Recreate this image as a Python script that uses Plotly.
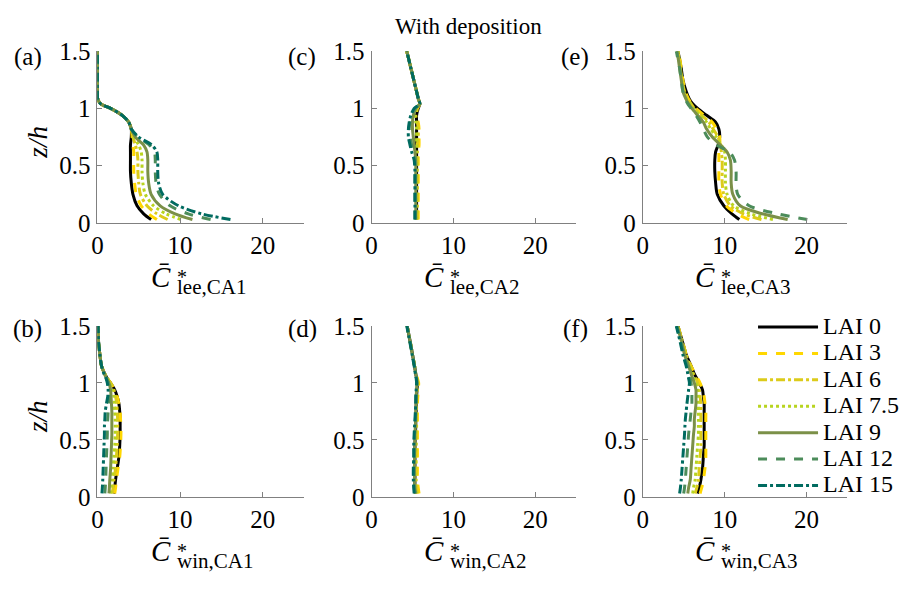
import plotly.graph_objects as go

# ---------------- data ----------------
lai_labels = ["LAI 0", "LAI 3", "LAI 6", "LAI 7.5", "LAI 9", "LAI 12", "LAI 15"]
lai_colors = ["#000000", "#FFD700", "#DCCB1A", "#B8D41F", "#7B9048", "#4C8C5A", "#006B60"]
lai_dashes = ["solid", "dash", "dashdot", "dot", "solid", "dash", "dashdot"]

z = [0.03, 0.08, 0.15, 0.25, 0.35, 0.45, 0.55, 0.62, 0.68, 0.75, 0.82, 0.88, 0.94, 1.0, 1.04, 1.08, 1.15, 1.25, 1.35, 1.5]

# (a) lee, CA1
lee_ca1_lai0 = [6.5, 5.6, 4.8, 4.3, 4.1, 4.0, 4.0, 4.0, 4.0, 4.1, 4.1, 3.8, 3.0, 1.6, 0.4, 0.05, 0, 0, 0, 0]
lee_ca1_lai3 = [7.2, 6.2, 5.3, 4.7, 4.5, 4.4, 4.4, 4.4, 4.3, 4.2, 4.1, 3.8, 3.0, 1.6, 0.4, 0.05, 0, 0, 0, 0]
lee_ca1_lai6 = [8.5, 7.2, 6.0, 5.2, 5.0, 4.9, 4.9, 4.8, 4.6, 4.3, 4.1, 3.8, 3.0, 1.6, 0.4, 0.05, 0, 0, 0, 0]
lee_ca1_lai75 = [10.1, 8.3, 6.8, 5.8, 5.5, 5.4, 5.4, 5.3, 5.0, 4.4, 4.1, 3.8, 3.0, 1.6, 0.4, 0.05, 0, 0, 0, 0]
lee_ca1_lai9 = [11.5, 9.4, 7.6, 6.5, 6.2, 6.1, 6.1, 6.0, 5.6, 4.6, 4.1, 3.8, 3.0, 1.6, 0.4, 0.05, 0, 0, 0, 0]
lee_ca1_lai12 = [13.7, 11.0, 8.8, 7.5, 7.1, 7.0, 7.0, 6.9, 6.3, 4.9, 4.1, 3.8, 3.0, 1.6, 0.4, 0.05, 0, 0, 0, 0]
lee_ca1_lai15 = [16.1, 12.6, 9.8, 7.9, 7.4, 7.3, 7.3, 7.2, 6.6, 5.0, 4.1, 3.8, 3.0, 1.6, 0.4, 0.05, 0, 0, 0, 0]

# (c) lee, CA2
lee_ca2_lai0 = [5.5, 5.5, 5.5, 5.5, 5.5, 5.5, 5.5, 5.5, 5.5, 5.5, 5.5, 5.5, 5.5, 5.7, 5.9, 5.73, 5.49, 5.15, 4.81, 4.3]
lee_ca2_lai3 = [5.7, 5.7, 5.7, 5.7, 5.7, 5.7, 5.7, 5.7, 5.8, 5.8, 5.8, 5.7, 5.5, 5.6, 5.9, 5.73, 5.49, 5.15, 4.81, 4.3]
lee_ca2_lai6 = [5.6, 5.6, 5.6, 5.6, 5.6, 5.6, 5.6, 5.6, 5.6, 5.7, 5.7, 5.6, 5.4, 5.5, 5.9, 5.73, 5.49, 5.15, 4.81, 4.3]
lee_ca2_lai75 = [5.5, 5.5, 5.5, 5.5, 5.5, 5.5, 5.5, 5.5, 5.5, 5.5, 5.5, 5.4, 5.3, 5.5, 5.9, 5.73, 5.49, 5.15, 4.81, 4.3]
lee_ca2_lai9 = [5.4, 5.4, 5.4, 5.4, 5.4, 5.4, 5.4, 5.3, 5.2, 5.1, 5.0, 5.0, 5.1, 5.4, 5.9, 5.73, 5.49, 5.15, 4.81, 4.3]
lee_ca2_lai12 = [5.3, 5.3, 5.3, 5.3, 5.3, 5.3, 5.3, 5.1, 4.9, 4.7, 4.6, 4.7, 4.9, 5.3, 5.9, 5.73, 5.49, 5.15, 4.81, 4.3]
lee_ca2_lai15 = [5.3, 5.3, 5.3, 5.3, 5.3, 5.3, 5.2, 4.9, 4.7, 4.5, 4.5, 4.6, 4.8, 5.2, 5.9, 5.73, 5.49, 5.15, 4.81, 4.3]

# (e) lee, CA3  (LAI 15 not shown in this panel)
lee_ca3_lai0 = [11.8, 10.9, 9.9, 9.1, 8.9, 8.8, 8.8, 8.9, 9.2, 9.4, 9.3, 8.9, 7.8, 6.7, 6.1, 5.7, 5.3, 4.9, 4.7, 4.3]
lee_ca3_lai3 = [13.0, 11.5, 10.2, 9.5, 9.3, 9.3, 9.3, 9.3, 9.4, 9.4, 9.0, 8.5, 7.5, 6.5, 6.0, 5.6, 5.2, 4.9, 4.7, 4.4]
lee_ca3_lai6 = [14.5, 12.3, 10.7, 9.9, 9.7, 9.7, 9.7, 9.6, 9.5, 9.2, 8.6, 8.1, 7.2, 6.3, 5.9, 5.5, 5.1, 4.8, 4.6, 4.3]
lee_ca3_lai75 = [15.9, 13.2, 11.1, 10.3, 10.1, 10.1, 10.1, 10.0, 9.6, 9.0, 8.3, 7.8, 7.0, 6.2, 5.8, 5.4, 5.0, 4.8, 4.6, 4.3]
lee_ca3_lai9 = [17.7, 14.6, 11.9, 11.0, 10.8, 10.8, 10.7, 10.3, 9.5, 8.5, 7.8, 7.4, 6.7, 6.0, 5.6, 5.3, 4.9, 4.7, 4.5, 4.2]
lee_ca3_lai12 = [20.1, 16.5, 13.0, 11.6, 11.4, 11.4, 11.2, 10.6, 9.0, 7.9, 7.4, 7.0, 6.5, 5.9, 5.5, 5.2, 4.9, 4.7, 4.5, 4.1]

# (b) windward, CA1
win_ca1_lai0 = [2.0, 2.1, 2.2, 2.4, 2.6, 2.7, 2.75, 2.75, 2.75, 2.7, 2.6, 2.4, 2.1, 1.6, 1.2, 0.9, 0.5, 0.3, 0.15, 0.08]
win_ca1_lai3 = [2.1, 2.2, 2.3, 2.5, 2.7, 2.8, 2.85, 2.85, 2.8, 2.75, 2.6, 2.4, 2.1, 1.6, 1.2, 0.9, 0.5, 0.3, 0.15, 0.08]
win_ca1_lai6 = [1.8, 1.9, 2.0, 2.2, 2.3, 2.4, 2.45, 2.45, 2.45, 2.4, 2.35, 2.2, 2.0, 1.6, 1.2, 0.9, 0.5, 0.3, 0.15, 0.08]
win_ca1_lai75 = [1.6, 1.7, 1.8, 1.9, 2.0, 2.1, 2.15, 2.15, 2.15, 2.1, 2.05, 2.0, 1.8, 1.5, 1.2, 0.9, 0.5, 0.3, 0.15, 0.08]
win_ca1_lai9 = [1.4, 1.45, 1.5, 1.6, 1.65, 1.7, 1.75, 1.75, 1.75, 1.75, 1.7, 1.65, 1.6, 1.4, 1.1, 0.85, 0.5, 0.3, 0.15, 0.08]
win_ca1_lai12 = [0.9, 0.95, 1.0, 1.05, 1.1, 1.15, 1.2, 1.2, 1.25, 1.3, 1.35, 1.4, 1.4, 1.3, 1.1, 0.85, 0.5, 0.3, 0.15, 0.08]
win_ca1_lai15 = [0.55, 0.6, 0.65, 0.7, 0.75, 0.8, 0.85, 0.85, 0.9, 0.95, 1.1, 1.25, 1.3, 1.2, 1.05, 0.8, 0.5, 0.3, 0.15, 0.08]

# (d) windward, CA2
win_ca2_lai0 = [5.4, 5.3, 5.3, 5.3, 5.3, 5.3, 5.35, 5.4, 5.4, 5.45, 5.45, 5.5, 5.55, 5.6, 5.5, 5.4, 5.25, 5.0, 4.75, 4.35]
win_ca2_lai3 = [5.8, 5.7, 5.6, 5.6, 5.6, 5.6, 5.6, 5.6, 5.6, 5.6, 5.6, 5.65, 5.7, 5.75, 5.6, 5.45, 5.25, 5.0, 4.75, 4.35]
win_ca2_lai6 = [5.6, 5.5, 5.45, 5.45, 5.45, 5.45, 5.5, 5.5, 5.5, 5.5, 5.5, 5.55, 5.6, 5.65, 5.55, 5.4, 5.25, 5.0, 4.75, 4.35]
win_ca2_lai75 = [5.5, 5.4, 5.35, 5.35, 5.35, 5.4, 5.4, 5.45, 5.45, 5.45, 5.5, 5.5, 5.55, 5.6, 5.5, 5.4, 5.25, 5.0, 4.75, 4.35]
win_ca2_lai9 = [5.4, 5.3, 5.25, 5.25, 5.25, 5.3, 5.3, 5.35, 5.4, 5.4, 5.45, 5.45, 5.5, 5.55, 5.5, 5.4, 5.25, 5.0, 4.75, 4.35]
win_ca2_lai12 = [5.3, 5.2, 5.15, 5.15, 5.2, 5.2, 5.25, 5.3, 5.35, 5.4, 5.4, 5.45, 5.5, 5.55, 5.5, 5.4, 5.25, 5.0, 4.75, 4.35]
win_ca2_lai15 = [5.2, 5.15, 5.1, 5.1, 5.15, 5.15, 5.2, 5.25, 5.3, 5.35, 5.4, 5.4, 5.45, 5.5, 5.45, 5.35, 5.2, 4.95, 4.7, 4.3]

# (f) windward, CA3
win_ca3_lai0 = [6.7, 6.9, 7.1, 7.3, 7.4, 7.5, 7.5, 7.5, 7.5, 7.5, 7.5, 7.4, 7.3, 6.9, 6.6, 6.3, 5.9, 5.3, 4.9, 4.3]
win_ca3_lai3 = [7.0, 7.2, 7.4, 7.6, 7.7, 7.7, 7.7, 7.7, 7.7, 7.7, 7.6, 7.5, 7.3, 7.0, 6.7, 6.4, 5.9, 5.3, 4.9, 4.3]
win_ca3_lai6 = [6.4, 6.6, 6.8, 6.9, 7.0, 7.1, 7.1, 7.1, 7.1, 7.1, 7.1, 7.0, 6.9, 6.7, 6.5, 6.2, 5.8, 5.3, 4.9, 4.3]
win_ca3_lai75 = [6.1, 6.2, 6.4, 6.5, 6.6, 6.7, 6.8, 6.8, 6.8, 6.8, 6.8, 6.8, 6.7, 6.5, 6.3, 6.1, 5.7, 5.2, 4.8, 4.25]
win_ca3_lai9 = [5.5, 5.6, 5.8, 5.9, 6.0, 6.1, 6.2, 6.3, 6.3, 6.4, 6.5, 6.5, 6.5, 6.3, 6.1, 5.9, 5.6, 5.1, 4.8, 4.2]
win_ca3_lai12 = [5.0, 5.1, 5.2, 5.3, 5.4, 5.5, 5.6, 5.7, 5.8, 5.9, 6.0, 6.0, 6.0, 5.9, 5.8, 5.6, 5.4, 5.0, 4.7, 4.15]
win_ca3_lai15 = [4.5, 4.6, 4.7, 4.8, 4.9, 5.0, 5.1, 5.15, 5.2, 5.3, 5.4, 5.5, 5.6, 5.7, 5.6, 5.5, 5.3, 4.9, 4.6, 4.1]

panels = [
    ([lee_ca1_lai0, lee_ca1_lai3, lee_ca1_lai6, lee_ca1_lai75, lee_ca1_lai9, lee_ca1_lai12, lee_ca1_lai15], 1, "(a)", "lee,CA1"),
    ([lee_ca2_lai0, lee_ca2_lai3, lee_ca2_lai6, lee_ca2_lai75, lee_ca2_lai9, lee_ca2_lai12, lee_ca2_lai15], 2, "(c)", "lee,CA2"),
    ([lee_ca3_lai0, lee_ca3_lai3, lee_ca3_lai6, lee_ca3_lai75, lee_ca3_lai9, lee_ca3_lai12, None], 3, "(e)", "lee,CA3"),
    ([win_ca1_lai0, win_ca1_lai3, win_ca1_lai6, win_ca1_lai75, win_ca1_lai9, win_ca1_lai12, win_ca1_lai15], 4, "(b)", "win,CA1"),
    ([win_ca2_lai0, win_ca2_lai3, win_ca2_lai6, win_ca2_lai75, win_ca2_lai9, win_ca2_lai12, win_ca2_lai15], 5, "(d)", "win,CA2"),
    ([win_ca3_lai0, win_ca3_lai3, win_ca3_lai6, win_ca3_lai75, win_ca3_lai9, win_ca3_lai12, win_ca3_lai15], 6, "(f)", "win,CA3"),
]

x_ticks = [0, 10, 20]
y_ticks = [0, 0.5, 1, 1.5]
y_ticktext = ["0", "0.5", "1", "1.5"]

# ---------------- layout geometry ----------------
W, H = 909, 592
col_px = [(92, 300), (368, 574), (641, 847)]
row_px = [(40, 220), (328, 507)]
FONT = "Liberation Serif"
AX_COLOR = "#808080"

fig = go.Figure()

for series, idx, tag, sub in panels:
    suffix = "" if idx == 1 else str(idx)
    for k, vals in enumerate(series):
        if vals is None:
            continue
        fig.add_trace(go.Scatter(
            x=vals, y=z, mode="lines",
            line=dict(color=lai_colors[k], width=3, dash=lai_dashes[k], shape="spline", smoothing=0.8),
            name='<span style="font-size:24px">' + lai_labels[k] + "</span>",
            showlegend=(idx == 6),
            xaxis="x" + suffix, yaxis="y" + suffix,
        ))

layout_axes = {}
annotations = []
for series, idx, tag, sub in panels:
    r = 0 if idx <= 3 else 1
    c = (idx - 1) % 3
    x0, x1 = col_px[c]
    y0, y1 = row_px[r]
    suffix = "" if idx == 1 else str(idx)
    common = dict(showline=True, linecolor=AX_COLOR, linewidth=1, ticks="inside", ticklen=5,
                  tickcolor=AX_COLOR, showgrid=False, zeroline=False,
                  tickfont=dict(family=FONT, size=25, color="black"))
    layout_axes["xaxis" + suffix] = dict(domain=[x0 / W, x1 / W], range=[0, 25], tickvals=x_ticks,
                                         anchor="y" + suffix, **common)
    layout_axes["yaxis" + suffix] = dict(domain=[1 - y1 / H, 1 - y0 / H], range=[0, 1.5], tickvals=y_ticks,
                                         ticktext=y_ticktext, anchor="x" + suffix, ticklabelstandoff=1, **common)
    # panel tag
    annotations.append(dict(text=tag, x=[22, 298, 573][c] / W, y=1 - (46 if r == 0 else 331) / H,
                            xref="paper", yref="paper", showarrow=False, xanchor="center", yanchor="middle",
                            font=dict(family=FONT, size=25, color="black")))
    # x-axis title: C-bar, then a stacked superscript * / subscript block
    xc = (x0 + x1) / 2
    annotations.append(dict(text="<i>C\u0304</i>", x=(xc - 28) / W, y=1 - (y1 + 57) / H,
                            xref="paper", yref="paper", showarrow=False, xanchor="right", yanchor="middle",
                            font=dict(family=FONT, size=29, color="black")))
    annotations.append(dict(text='<span style="font-size:20px">*</span><br>'
                                 '<span style="font-size:21px">' + sub + "</span>",
                            x=(xc - 26) / W, y=1 - (y1 + 62) / H, align="left",
                            xref="paper", yref="paper", showarrow=False, xanchor="left", yanchor="middle",
                            font=dict(family=FONT, size=8, color="black")))
    if c == 0:
        annotations.append(dict(text="<i>z/h</i>", x=32 / W, y=1 - ((y0 + y1) / 2 + 5) / H,
                                xref="paper", yref="paper", showarrow=False, textangle=-90,
                                xanchor="center", yanchor="middle",
                                font=dict(family=FONT, size=27, color="black")))

annotations.append(dict(text="With deposition", x=466 / W, y=1 - 14 / H, xref="paper", yref="paper",
                        showarrow=False, xanchor="center", yanchor="middle",
                        font=dict(family=FONT, size=23, color="black")))

fig.update_layout(
    width=W, height=H,
    margin=dict(l=0, r=0, t=0, b=0),
    paper_bgcolor="white", plot_bgcolor="white",
    font=dict(family=FONT, color="black"),
    showlegend=True,
    legend=dict(x=752 / W, y=1 - 310 / H, xanchor="left", yanchor="top",
                bgcolor="rgba(0,0,0,0)", borderwidth=0, tracegroupgap=0,
                font=dict(family=FONT, size=18, color="black"), itemwidth=60),
    annotations=annotations,
    **layout_axes,
)

fig.write_html("out.html")
